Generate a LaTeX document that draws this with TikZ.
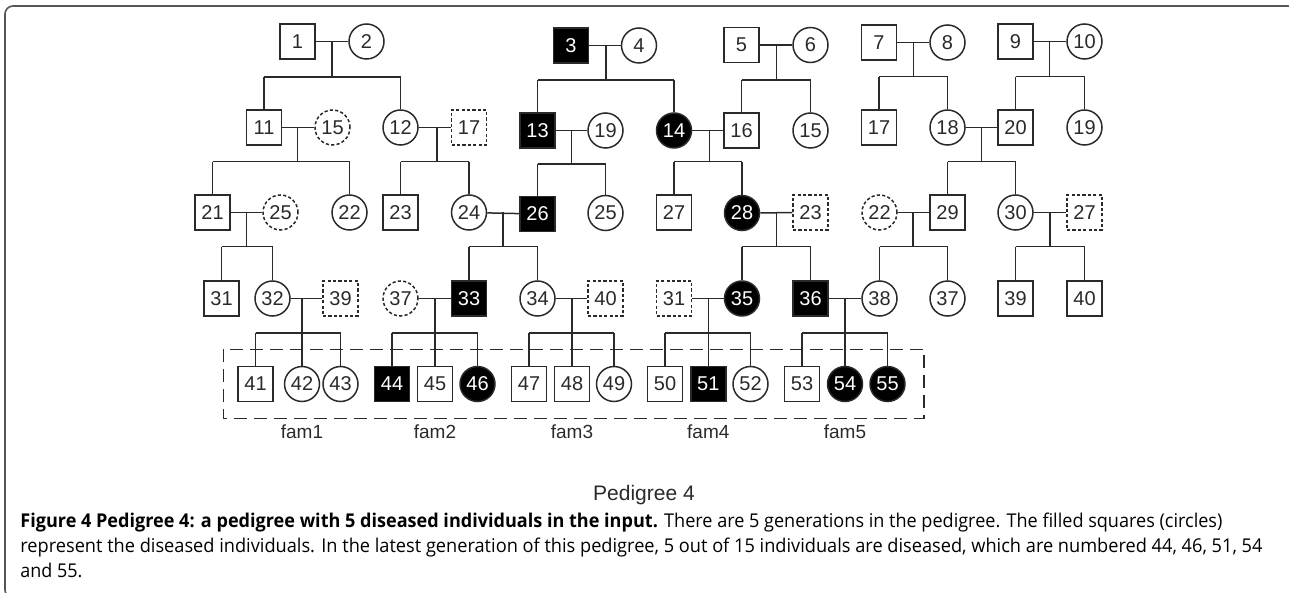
\documentclass[tikz,border=0pt]{standalone}
\usepackage{fontspec}
\usepackage{graphicx}
\setmainfont{Liberation Sans}
\newfontfamily\capfont{Open Sans}
\usetikzlibrary{calc}
\newsavebox\fitbox
\newlength\fitlen
\newcommand\fitline[2]{\sbox\fitbox{#2}\setlength\fitlen{\wd\fitbox}\pgfmathsetmacro\fitratio{#1/\fitlen}\scalebox{\fitratio}[1]{\usebox\fitbox}}
\definecolor{ink}{HTML}{2A2A2A}
\definecolor{framec}{HTML}{555555}
% family: #1 id, #2 spouse A, #3 spouse B, #4 descent x, #5 sibship y, #6 first child, #7 last child, #8 children
\newcommand\pedfam[8]{%
  \draw[rel] (#2) -- (#3);
  \coordinate (x#1) at (#4,0);
  \coordinate (m#1) at (x#1 |- #2);
  \coordinate (y#1) at (0,#5);
  \draw[rel] (m#1) -- (m#1 |- y#1);
  \draw[rel] (y#1 -| #6) -- (y#1 -| #7);
  \foreach \c in {#8} {\draw[rel] (y#1 -| \c) -- (\c);}%
}
\begin{document}
\begin{tikzpicture}[x=0.5pt,y=-0.5pt,
  base/.style={draw=ink, line width=0.75pt, inner sep=0pt, minimum size=17.5pt, font=\fontsize{10pt}{12pt}\selectfont, text=ink},
  sq/.style={base, rectangle},
  ci/.style={base, circle},
  sick/.style={fill=black, text=white},
  unk/.style={dash pattern=on 1.6pt off 1.1pt},
  rel/.style={draw=ink, line width=0.75pt},
  famlab/.style={font=\fontsize{9.5pt}{11pt}\selectfont, text=ink, inner sep=0pt},
  capline/.style={anchor=base west, inner sep=0pt, font=\capfont\fontsize{9.5pt}{11pt}\selectfont, text=black}]
\useasboundingbox (0,0) rectangle (1289,593);
% frame
\draw[framec, line width=0.8pt, rounded corners=4pt] (1296,600) -- (1296,6) -- (5,6) -- (5,598) -- (1296,598);
% generation 1
\node[sq] (n1) at (297.5,41.5) {1};
\node[ci] (n2) at (366.5,41.5) {2};
\node[sq,sick] (n3) at (571,45.5) {3};
\node[ci] (n4) at (639,45.5) {4};
\node[sq] (n5) at (741.5,45) {5};
\node[ci] (n6) at (810.5,45) {6};
\node[sq] (n7) at (879,42.5) {7};
\node[ci] (n8) at (947.5,42.5) {8};
\node[sq] (n9) at (1015.5,41.5) {9};
\node[ci] (n10) at (1084.5,41.5) {10};
% generation 2
\node[sq] (n11) at (264,127.5) {11};
\node[ci,unk] (n15a) at (332.5,127.5) {15};
\node[ci] (n12) at (400.5,127.5) {12};
\node[sq,unk] (n17a) at (469,127.5) {17};
\node[sq,sick] (n13) at (537.5,130.5) {13};
\node[ci] (n19a) at (605.5,130.5) {19};
\node[ci,sick] (n14) at (674,130.5) {14};
\node[sq] (n16) at (741.5,130.5) {16};
\node[ci] (n15b) at (810.5,130.5) {15};
\node[sq] (n17b) at (879,127.5) {17};
\node[ci] (n18) at (947.5,127.5) {18};
\node[sq] (n20) at (1015.5,127.5) {20};
\node[ci] (n19b) at (1084.5,127.5) {19};
% generation 3
\node[sq] (n21) at (212.5,212.5) {21};
\node[ci,unk] (n25a) at (280.5,212.5) {25};
\node[ci] (n22a) at (349.5,212.5) {22};
\node[sq] (n23a) at (400.5,212.5) {23};
\node[ci] (n24) at (469,212.5) {24};
\node[sq,sick] (n26) at (537.5,214) {26};
\node[ci] (n25b) at (605.5,213) {25};
\node[sq] (n27a) at (674,212.5) {27};
\node[ci,sick] (n28) at (742,213) {28};
\node[sq,unk] (n23b) at (810.5,212.5) {23};
\node[ci,unk] (n22b) at (879.5,212.5) {22};
\node[sq] (n29) at (947.5,212.5) {29};
\node[ci] (n30) at (1015.5,212.5) {30};
\node[sq,unk] (n27b) at (1084.5,212.5) {27};
% generation 4
\node[sq] (n31a) at (221.5,298.5) {31};
\node[ci] (n32) at (272.5,298.5) {32};
\node[sq,unk] (n39a) at (340.5,298.5) {39};
\node[ci,unk] (n37a) at (400.5,298.5) {37};
\node[sq,sick] (n33) at (469,298.5) {33};
\node[ci] (n34) at (537.5,298.5) {34};
\node[sq,unk] (n40a) at (605.5,298.5) {40};
\node[sq,unk] (n31b) at (674,298.5) {31};
\node[ci,sick] (n35) at (742,298.5) {35};
\node[sq,sick] (n36) at (810.5,298.5) {36};
\node[ci] (n38) at (879.5,298.5) {38};
\node[ci] (n37b) at (947.5,298.5) {37};
\node[sq] (n39b) at (1015.5,298.5) {39};
\node[sq] (n40b) at (1084.5,298.5) {40};
% generation 5
\node[sq] (n41) at (255.5,384) {41};
\node[ci] (n42) at (302,384) {42};
\node[ci] (n43) at (340.5,384) {43};
\node[sq,sick] (n44) at (392,384) {44};
\node[sq] (n45) at (435,384) {45};
\node[ci,sick] (n46) at (477.5,384) {46};
\node[sq] (n47) at (529,384) {47};
\node[sq] (n48) at (572,384) {48};
\node[ci] (n49) at (614,384) {49};
\node[sq] (n50) at (665,384) {50};
\node[sq,sick] (n51) at (708.3,384) {51};
\node[ci] (n52) at (750.5,384) {52};
\node[sq] (n53) at (802,384) {53};
\node[ci,sick] (n54) at (845,384) {54};
\node[ci,sick] (n55) at (887.5,384) {55};
% families
\pedfam{1}{n1}{n2}{332}{77}{n11}{n12}{n11,n12}
\pedfam{2}{n3}{n4}{606}{80}{n13}{n14}{n13,n14}
\pedfam{3}{n5}{n6}{776.7}{80}{n16}{n15b}{n16,n15b}
\pedfam{4}{n7}{n8}{913.3}{76.7}{n17b}{n18}{n17b,n18}
\pedfam{5}{n9}{n10}{1049.3}{76.7}{n20}{n19b}{n20,n19b}
\pedfam{6}{n11}{n15a}{297.7}{161.7}{n21}{n22a}{n21,n22a}
\pedfam{7}{n12}{n17a}{437}{161.7}{n23a}{n24}{n23a,n24}
\pedfam{8}{n13}{n19a}{571.7}{164}{n26}{n25b}{n26,n25b}
\pedfam{9}{n14}{n16}{709.3}{161.7}{n27a}{n28}{n27a,n28}
\pedfam{10}{n18}{n20}{981.7}{161.7}{n29}{n30}{n29,n30}
\pedfam{11}{n21}{n25a}{246.7}{246.7}{n31a}{n32}{n31a,n32}
\pedfam{12}{n24}{n26}{503}{246.7}{n33}{n34}{n33,n34}
\pedfam{13}{n28}{n23b}{776.7}{246.7}{n35}{n36}{n35,n36}
\pedfam{14}{n22b}{n29}{913}{246.7}{n38}{n37b}{n38,n37b}
\pedfam{15}{n30}{n27b}{1050}{246.7}{n39b}{n40b}{n39b,n40b}
\pedfam{16}{n32}{n39a}{302}{333}{n41}{n43}{n41,n42,n43}
\pedfam{17}{n37a}{n33}{435}{333}{n44}{n46}{n44,n45,n46}
\pedfam{18}{n34}{n40a}{572}{333}{n47}{n49}{n47,n48,n49}
\pedfam{19}{n31b}{n35}{708.3}{333}{n50}{n52}{n50,n51,n52}
\pedfam{20}{n36}{n38}{845}{333}{n53}{n55}{n53,n54,n55}
% last generation box and family labels
\draw[ink, line width=0.7pt, dash pattern=on 6.5pt off 3.5pt] (223.3,349.3) rectangle (924,418.3);
\node[famlab] (fam1) at (302,432) {fam1};
\node[famlab] (fam2) at (435,432) {fam2};
\node[famlab] (fam3) at (572,432) {fam3};
\node[famlab] (fam4) at (708.3,432) {fam4};
\node[famlab] (fam5) at (845,432) {fam5};
% title and caption
\node[font=\fontsize{10.5pt}{12pt}\selectfont, text=ink, inner sep=0pt] (title) at (644,495) {Pedigree 4};
\node[capline] (cap1) at (20,527) {\fitline{601pt}{\textbf{Figure 4 Pedigree 4: a pedigree with 5 diseased individuals in the input.} There are 5 generations in the pedigree. The filled squares (circles)}};
\node[capline] (cap2) at (20,552) {\fitline{621pt}{represent the diseased individuals. In the latest generation of this pedigree, 5 out of 15 individuals are diseased, which are numbered 44, 46, 51, 54}};
\node[capline] (cap3) at (20,577) {\fitline{31pt}{and 55.}};
\end{tikzpicture}
\end{document}
